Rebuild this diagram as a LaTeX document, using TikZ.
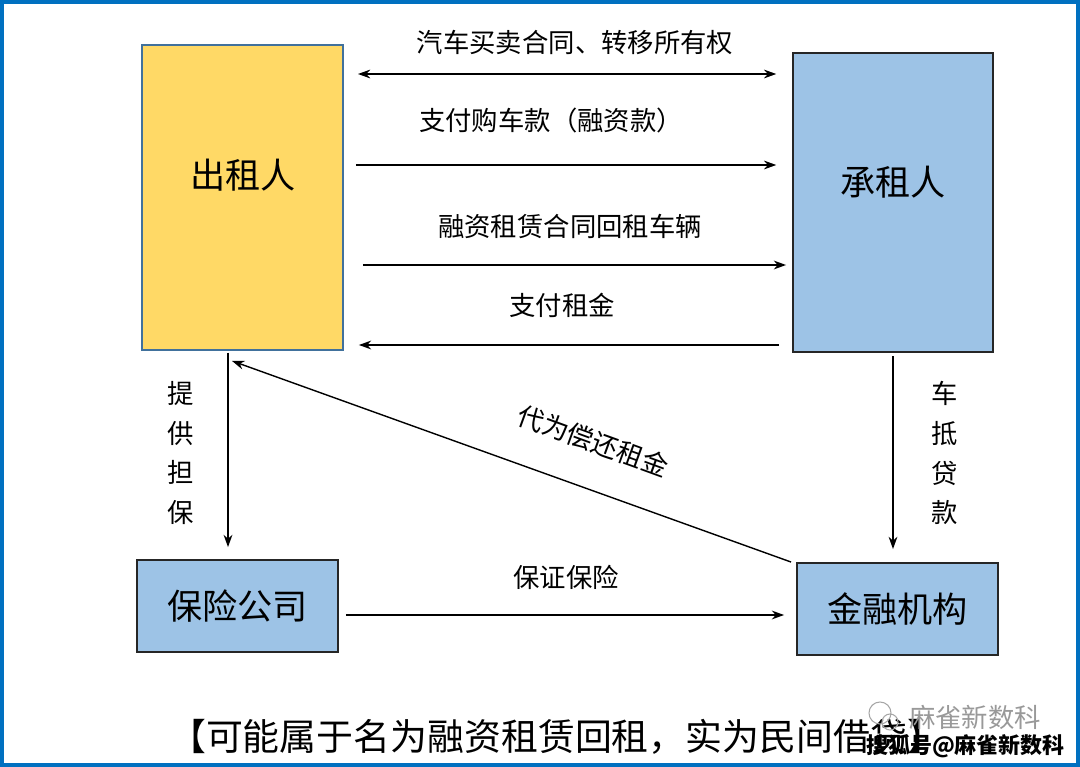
\documentclass[tikz,border=0pt]{standalone}
\usepackage{fontspec}
\newfontfamily\cjk{Noto Sans CJK SC}
\usetikzlibrary{arrows.meta}
\definecolor{lessoryellow}{HTML}{FFD966}
\definecolor{boxblue}{HTML}{9DC3E6}
\definecolor{frameblue}{HTML}{0070C0}
\definecolor{edgeteal}{HTML}{41719C}
\begin{document}
\begin{tikzpicture}[x=0.02cm, y=-0.02cm,
    >={Stealth[length=7pt,width=5pt]},
    box/.style={draw=black!85, line width=1.1pt, fill=boxblue, inner sep=0pt,
        minimum width=4.02cm, font=\cjk\fontsize{20}{24}\selectfont},
    arr/.style={->, line width=0.8pt},
    flow/.style={font=\cjk\fontsize{15}{18}\selectfont},
    vlabel/.style={font=\cjk\fontsize{15}{22.7}\selectfont, align=center}]
    \useasboundingbox (0,0) rectangle (1080,767);

    % Frame
    \draw[frameblue, line width=2pt, fill=white] (1.8,1.8) rectangle (1078.2,765.2);

    % Parties
    \node[box, fill=lessoryellow, draw=edgeteal, minimum height=6.1cm] (lessor) at (242.5,197.5) {};
    \node[font=\cjk\fontsize{20}{24}\selectfont] (lessortext) at (243,175) {出租人};
    \node[box, minimum width=4cm, minimum height=5.98cm] (lessee) at (893,202.5) {};
    \node[font=\cjk\fontsize{20}{24}\selectfont] (lesseetext) at (893,182) {承租人};
    \node[box, minimum height=1.84cm] (insurer) at (237.5,606) {保险公司};
    \node[box, minimum height=1.84cm] (finance) at (897.5,609) {金融机构};

    % Flows between lessor and lessee
    \draw[arr, <->, shorten <=8pt, shorten >=9pt] (lessor.east |- 0,74) -- (lessee.west |- 0,74);
    \node[flow] (sale) at (575,42) {汽车买卖合同、转移所有权};

    \draw[arr, shorten <=6.8pt, shorten >=9pt] (lessor.east |- 0,165) -- (lessee.west |- 0,165);
    \node[flow] (pay) at (551,120) {支付购车款（融资款）};

    \draw[arr, shorten <=10.8pt, shorten >=3.4pt] (lessor.east |- 0,265) -- (lessee.west |- 0,265);
    \node[flow] (leaseback) at (570,226) {融资租赁合同回租车辆};

    \draw[arr, shorten <=7.4pt, shorten >=8.5pt] (lessee.west |- 0,345) -- (lessor.east |- 0,345);
    \node[flow] (rent) at (562,305) {支付租金};

    % Guarantee and loan
    \draw[arr, shorten <=1pt, shorten >=6.8pt] (lessor.south -| 228,0) -- (insurer.north -| 228,0);
    \node[vlabel] (guarantee) at (181,453) {提\\供\\担\\保};

    \draw[arr, shorten <=2pt, shorten >=7.4pt] (lessee.south -| 893,0) -- (finance.north -| 893,0);
    \node[vlabel] (carloan) at (945,453) {车\\抵\\贷\\款};

    \draw[arr, shorten <=4pt, shorten >=6.8pt] (insurer.east |- 0,615) -- (finance.west |- 0,615);
    \node[flow] (bond) at (566,577) {保证保险};

    % Repayment on behalf
    \draw[arr] ([xshift=-0.1cm]finance.north west) -- ([xshift=-0.21cm,yshift=-0.2cm]lessor.south);
    \node[flow, rotate=-20] (repay) at (593,441) {代为偿还租金};

    % Note
    \node[anchor=west, font=\cjk\fontsize{21}{25}\selectfont] (note) at (163,737) {【可能属于名为融资租赁回租，实为民间借贷】};

    % Watermark
    \draw[black!35, line width=0.6pt] (880,713) circle (11) (890,722) circle (8);
    \node[anchor=west, text=black!40, font=\cjk\fontsize{15}{18}\selectfont] (mark) at (903,717) {麻雀新数科};
    \node[anchor=west, font=\cjk\bfseries\fontsize{12.5}{15}\selectfont] (sohu) at (860,746) {搜狐号@麻雀新数科};
\end{tikzpicture}
\end{document}
